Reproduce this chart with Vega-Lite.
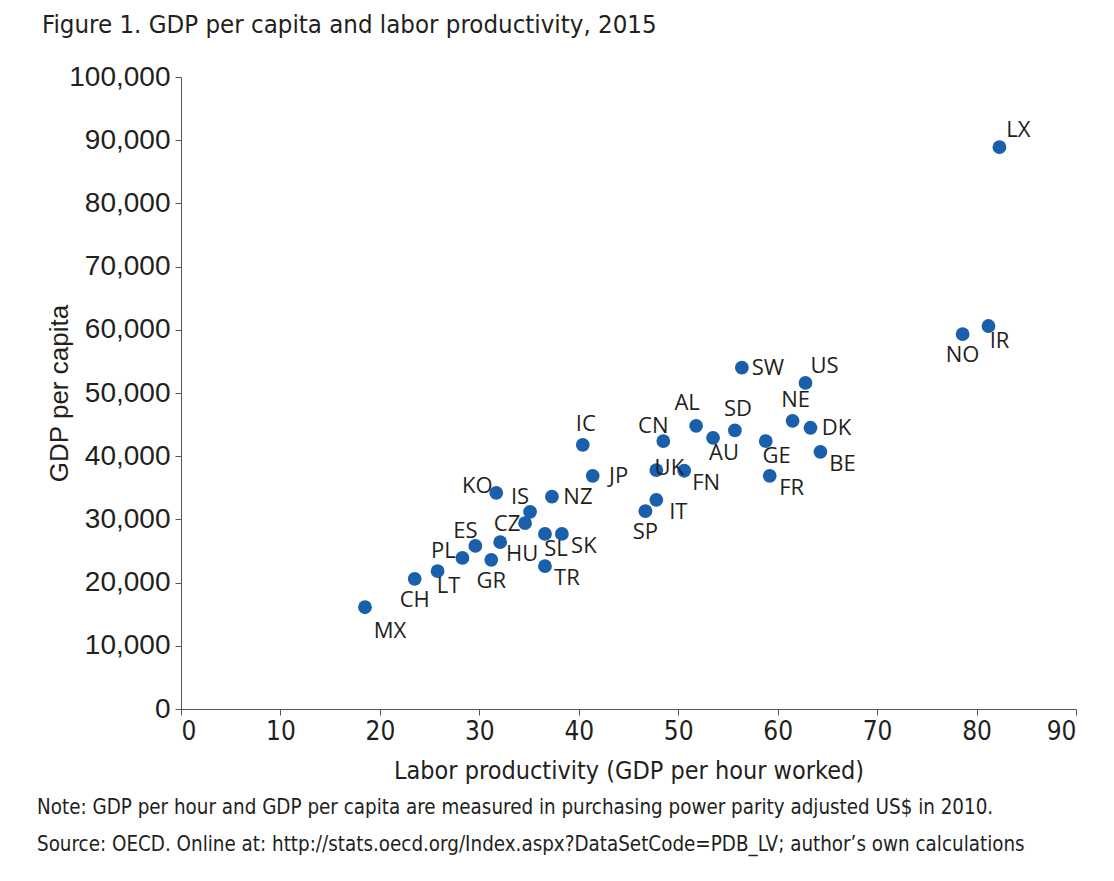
{
  "$schema": "https://vega.github.io/schema/vega-lite/v6.json",
  "padding": {"left": 37, "top": 13, "right": 30, "bottom": 10},
  "background": "white",
  "title": {
    "text": ["Note: GDP per hour and GDP per capita are measured in purchasing power parity adjusted US$ in 2010.", "Source: OECD. Online at: http://stats.oecd.org/Index.aspx?DataSetCode=PDB_LV; author’s own calculations"],
    "orient": "bottom", "anchor": "start", "frame": "bounds", "dx": -5,
    "font": "DejaVu Sans Condensed", "fontSize": 20.4, "fontWeight": "normal",
    "color": "#231f20", "lineHeight": 37, "offset": 15
  },
  "vconcat": [
    {
      "title": {
        "text": "Figure 1. GDP per capita and labor productivity, 2015",
        "anchor": "start", "frame": "bounds", "dx": -4,
        "font": "DejaVu Sans Condensed", "fontSize": 25.6, "fontWeight": "normal",
        "color": "#231f20", "offset": 24
      },
      "width": 895,
      "height": 632,
      "data": {
        "values": [
          {"c": "MX", "x": 18.5, "y": 16100, "pos": "mx"},
          {"c": "CH", "x": 23.5, "y": 20600, "pos": "b"},
          {"c": "LT", "x": 25.8, "y": 21800, "pos": "bb"},
          {"c": "PL", "x": 28.3, "y": 23900, "pos": "l"},
          {"c": "ES", "x": 29.6, "y": 25800, "pos": "al"},
          {"c": "GR", "x": 31.2, "y": 23600, "pos": "b"},
          {"c": "HU", "x": 32.1, "y": 26400, "pos": "br"},
          {"c": "KO", "x": 31.7, "y": 34200, "pos": "l"},
          {"c": "CZ", "x": 34.6, "y": 29400, "pos": "lm"},
          {"c": "IS", "x": 35.1, "y": 31200, "pos": "al"},
          {"c": "SL", "x": 36.6, "y": 27700, "pos": "bb"},
          {"c": "SK", "x": 38.3, "y": 27700, "pos": "br"},
          {"c": "TR", "x": 36.6, "y": 22600, "pos": "br"},
          {"c": "NZ", "x": 37.3, "y": 33600, "pos": "r"},
          {"c": "IC", "x": 40.4, "y": 41800, "pos": "a"},
          {"c": "JP", "x": 41.4, "y": 36900, "pos": "r"},
          {"c": "SP", "x": 46.7, "y": 31300, "pos": "b"},
          {"c": "IT", "x": 47.8, "y": 33100, "pos": "br"},
          {"c": "UK", "x": 47.8, "y": 37800, "pos": "ro"},
          {"c": "CN", "x": 48.5, "y": 42400, "pos": "al"},
          {"c": "FN", "x": 50.6, "y": 37700, "pos": "br"},
          {"c": "AL", "x": 51.8, "y": 44800, "pos": "aal"},
          {"c": "AU", "x": 53.5, "y": 42900, "pos": "bb"},
          {"c": "SD", "x": 55.7, "y": 44100, "pos": "a"},
          {"c": "SW", "x": 56.4, "y": 54000, "pos": "r"},
          {"c": "GE", "x": 58.8, "y": 42400, "pos": "bb"},
          {"c": "FR", "x": 59.2, "y": 36900, "pos": "br"},
          {"c": "NE", "x": 61.5, "y": 45600, "pos": "a"},
          {"c": "US", "x": 62.8, "y": 51600, "pos": "ar"},
          {"c": "DK", "x": 63.3, "y": 44500, "pos": "r"},
          {"c": "BE", "x": 64.3, "y": 40700, "pos": "br"},
          {"c": "NO", "x": 78.6, "y": 59300, "pos": "b"},
          {"c": "IR", "x": 81.2, "y": 60600, "pos": "bb"},
          {"c": "LX", "x": 82.3, "y": 88900, "pos": "ar"}
        ]
      },
      "encoding": {
        "x": {
          "field": "x", "type": "quantitative",
          "scale": {"domain": [0, 90], "nice": false, "zero": true},
          "axis": {
            "values": [0, 10, 20, 30, 40, 50, 60, 70, 80, 90],
            "title": "Labor productivity (GDP per hour worked)",
            "grid": false, "domainColor": "#555555", "tickColor": "#555555",
            "tickSize": 6, "labelPadding": 3, "labelOverlap": false,
            "labelFont": "DejaVu Sans Condensed", "labelFontSize": 26, "labelColor": "#231f20",
            "titleFont": "DejaVu Sans Condensed", "titleFontSize": 25, "titleFontWeight": "normal",
            "titleColor": "#231f20", "titlePadding": 14
          }
        },
        "y": {
          "field": "y", "type": "quantitative",
          "scale": {"domain": [0, 100000], "nice": false},
          "axis": {
            "values": [0, 10000, 20000, 30000, 40000, 50000, 60000, 70000, 80000, 90000, 100000],
            "format": ",d",
            "title": "GDP per capita",
            "grid": false, "domainColor": "#555555", "tickColor": "#555555",
            "tickSize": 6, "labelPadding": 5, "labelOverlap": false,
            "labelFont": "Liberation Sans", "labelFontSize": 28, "labelColor": "#231f20",
            "titleFont": "Liberation Sans", "titleFontSize": 26, "titleFontWeight": "normal",
            "titleColor": "#231f20", "titleX": -109
          }
        }
      },
      "layer": [
        {"mark": {"type": "point", "filled": true, "size": 190, "opacity": 1, "color": "#1a5fab", "shape": "circle"}},
        {"transform": [{"filter": "datum.pos == 'r'"}], "mark": {"type": "text", "dx": 26, "dy": 0, "font": "Open Sans", "fontSize": 22, "color": "#231f20", "align": "center", "baseline": "middle"}, "encoding": {"text": {"field": "c"}}},
        {"transform": [{"filter": "datum.pos == 'ro'"}], "mark": {"type": "text", "dx": 13, "dy": -2, "font": "Open Sans", "fontSize": 22, "color": "#231f20", "align": "center", "baseline": "middle"}, "encoding": {"text": {"field": "c"}}},
        {"transform": [{"filter": "datum.pos == 'br'"}], "mark": {"type": "text", "dx": 22, "dy": 12, "font": "Open Sans", "fontSize": 22, "color": "#231f20", "align": "center", "baseline": "middle"}, "encoding": {"text": {"field": "c"}}},
        {"transform": [{"filter": "datum.pos == 'bb'"}], "mark": {"type": "text", "dx": 11, "dy": 15, "font": "Open Sans", "fontSize": 22, "color": "#231f20", "align": "center", "baseline": "middle"}, "encoding": {"text": {"field": "c"}}},
        {"transform": [{"filter": "datum.pos == 'b'"}], "mark": {"type": "text", "dx": 0, "dy": 21, "font": "Open Sans", "fontSize": 22, "color": "#231f20", "align": "center", "baseline": "middle"}, "encoding": {"text": {"field": "c"}}},
        {"transform": [{"filter": "datum.pos == 'mx'"}], "mark": {"type": "text", "dx": 25, "dy": 24, "font": "Open Sans", "fontSize": 22, "color": "#231f20", "align": "center", "baseline": "middle"}, "encoding": {"text": {"field": "c"}}},
        {"transform": [{"filter": "datum.pos == 'a'"}], "mark": {"type": "text", "dx": 3, "dy": -21, "font": "Open Sans", "fontSize": 22, "color": "#231f20", "align": "center", "baseline": "middle"}, "encoding": {"text": {"field": "c"}}},
        {"transform": [{"filter": "datum.pos == 'al'"}], "mark": {"type": "text", "dx": -10, "dy": -15, "font": "Open Sans", "fontSize": 22, "color": "#231f20", "align": "center", "baseline": "middle"}, "encoding": {"text": {"field": "c"}}},
        {"transform": [{"filter": "datum.pos == 'aal'"}], "mark": {"type": "text", "dx": -9, "dy": -23, "font": "Open Sans", "fontSize": 22, "color": "#231f20", "align": "center", "baseline": "middle"}, "encoding": {"text": {"field": "c"}}},
        {"transform": [{"filter": "datum.pos == 'l'"}], "mark": {"type": "text", "dx": -19, "dy": -7, "font": "Open Sans", "fontSize": 22, "color": "#231f20", "align": "center", "baseline": "middle"}, "encoding": {"text": {"field": "c"}}},
        {"transform": [{"filter": "datum.pos == 'lm'"}], "mark": {"type": "text", "dx": -18, "dy": 1, "font": "Open Sans", "fontSize": 22, "color": "#231f20", "align": "center", "baseline": "middle"}, "encoding": {"text": {"field": "c"}}},
        {"transform": [{"filter": "datum.pos == 'ar'"}], "mark": {"type": "text", "dx": 19, "dy": -17, "font": "Open Sans", "fontSize": 22, "color": "#231f20", "align": "center", "baseline": "middle"}, "encoding": {"text": {"field": "c"}}}
      ]
    }
  ],
  "config": {"view": {"stroke": null}, "concat": {"spacing": 0}}
}
